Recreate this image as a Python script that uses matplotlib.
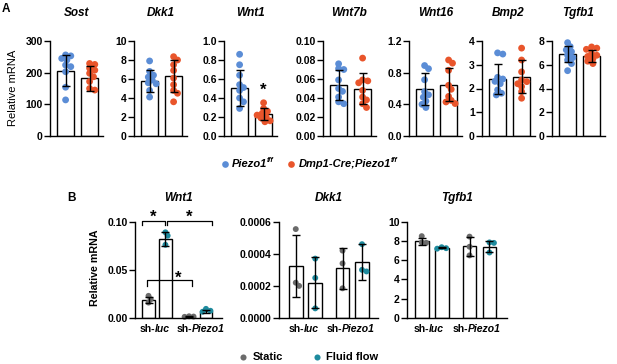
import numpy as np
import matplotlib
matplotlib.use('Agg')
import matplotlib.pyplot as plt
from matplotlib.transforms import IdentityTransform

plt.rcParams['font.family'] = ['Liberation Sans', 'DejaVu Sans']
plt.rcParams['axes.linewidth'] = 1.0

# ---------------- data: panel A ----------------
A_genes = ['Sost', 'Dkk1', 'Wnt1', 'Wnt7b', 'Wnt16', 'Bmp2', 'Tgfb1']
A_groups = ['Piezo1', 'Dmp1-Cre;Piezo1']
A_wt_mean = [206, 5.8, 0.51, 0.054, 0.59, 2.4, 6.9]
A_wt_sd = [49, 1.15, 0.19, 0.016, 0.20, 0.65, 0.66]
A_ko_mean = [182, 6.3, 0.23, 0.050, 0.65, 2.5, 6.74]
A_ko_sd = [40, 1.65, 0.065, 0.016, 0.21, 0.68, 0.47]
A_wt_pts = [
    [256, 253, 245, 240, 224, 219, 203, 154, 114],
    [7.9, 6.8, 6.4, 6.2, 5.9, 5.6, 5.5, 4.8, 4.1],
    [0.86, 0.75, 0.64, 0.54, 0.51, 0.48, 0.40, 0.36, 0.29],
    [0.076, 0.071, 0.070, 0.059, 0.050, 0.047, 0.041, 0.036, 0.034],
    [0.89, 0.85, 0.71, 0.56, 0.52, 0.49, 0.44, 0.40, 0.36],
    [3.5, 3.45, 2.47, 2.4, 2.3, 2.2, 1.94, 1.8, 1.73],
    [7.86, 7.53, 7.25, 7.1, 6.8, 6.6, 6.4, 6.1, 5.5],
]
A_ko_pts = [
    [229, 226, 214, 208, 198, 187, 172, 150, 145],
    [8.35, 8.0, 7.5, 6.9, 6.1, 5.4, 4.8, 4.5, 3.6],
    [0.35, 0.29, 0.26, 0.24, 0.22, 0.20, 0.19, 0.16, 0.15],
    [0.082, 0.059, 0.058, 0.056, 0.048, 0.041, 0.038, 0.034, 0.030],
    [0.96, 0.92, 0.83, 0.64, 0.59, 0.50, 0.45, 0.43, 0.41],
    [3.7, 3.2, 2.7, 2.36, 2.29, 2.2, 2.08, 1.87, 1.59],
    [7.5, 7.4, 7.3, 6.96, 6.8, 6.7, 6.5, 6.3, 6.1],
]
A_yticks = [
    [0, 100, 200, 300],
    [0, 2, 4, 6, 8, 10],
    [0.0, 0.2, 0.4, 0.6, 0.8, 1.0],
    [0.00, 0.02, 0.04, 0.06, 0.08, 0.10],
    [0.0, 0.4, 0.8, 1.2],
    [0, 1, 2, 3, 4],
    [0, 2, 4, 6, 8],
]
A_fmt = ['{:.0f}', '{:.0f}', '{:.1f}', '{:.2f}', '{:.1f}', '{:.0f}', '{:.0f}']
A_star_gene = 'Wnt1'
A_star_value = 0.526

# ---------------- data: panel B ----------------
B_genes = ['Wnt1', 'Dkk1', 'Tgfb1']
B_groups = [('sh-', 'luc'), ('sh-', 'Piezo1')]
B_conditions = ['Static', 'Fluid flow']
B_mean = [
    [0.0185, 0.082, 0.0015, 0.0068],
    [0.000325, 0.00022, 0.00031, 0.00035],
    [7.95, 7.3, 7.45, 7.4],
]
B_sd = [
    [0.0033, 0.0068, 0.0004, 0.0016],
    [0.000195, 0.00016, 0.000128, 0.000112],
    [0.35, 0.08, 1.0, 0.55],
]
B_pts = [
    [[0.023, 0.0195, 0.016], [0.089, 0.0855, 0.076], [0.0018, 0.0015, 0.0012], [0.0095, 0.0075, 0.0065]],
    [[0.000554, 0.00022, 0.0002], [0.00037, 0.00025, 0.00006], [0.00042, 0.00034, 0.000185], [0.00046, 0.0003, 0.00029]],
    [[8.5, 7.85, 7.8], [7.35, 7.25, 7.2], [8.45, 7.4, 6.5], [7.85, 7.8, 6.8]],
]
B_yticks = [
    [0.00, 0.05, 0.10],
    [0.0, 0.0002, 0.0004, 0.0006],
    [0, 2, 4, 6, 8, 10],
]
B_fmt = ['{:.2f}', '{:.4f}', '{:.0f}']

# ---------------- style ----------------
W, H = 617, 364
C_WT = '#5B8DD6'
C_KO = '#E9552B'
C_ST = '#6B6B6B'
C_FF = '#1E8B9E'
TICK_FS = 7.5
TITLE_FS = 8.5
LAB_FS = 8

fig = plt.figure(figsize=(W / 100, H / 100), dpi=100)
overlay = fig.add_axes([0, 0, 1, 1])
overlay.set_xlim(0, W)
overlay.set_ylim(H, 0)
overlay.axis('off')


def add_ax(x0, x1, ytop, ybot):
    return fig.add_axes([x0 / W, 1 - ybot / H, (x1 - x0) / W, (ybot - ytop) / H])


def style_ax(ax, ticks, fmt):
    for s in ['top', 'right']:
        ax.spines[s].set_visible(False)
    ax.set_yticks(ticks)
    ax.set_yticklabels([fmt.format(t) for t in ticks], fontsize=TICK_FS, fontweight='bold')
    ax.set_ylim(ticks[0], ticks[-1])
    ax.set_xticks([])
    ax.tick_params(axis='y', direction='out', length=4, width=1.0, pad=1.2)
    ax.patch.set_alpha(0)


def swarm(ax, xc, vals, diam):
    tr = ax.transData
    sx = tr.transform((xc + 1, 0))[0] - tr.transform((xc, 0))[0]
    placed = []
    xs, ys = [], []
    order = np.argsort(vals)[::-1]
    for i in order:
        v = vals[i]
        yp = tr.transform((xc, v))[1]
        off_final = 0
        for k in range(0, 80):
            cands = [0.0] if k == 0 else [k * diam * 0.2, -k * diam * 0.2]
            ok = None
            for off in cands:
                if all((off - px) ** 2 + (yp - py) ** 2 >= (diam * 0.72) ** 2 for px, py in placed):
                    ok = off
                    break
            if ok is not None:
                off_final = ok
                break
        placed.append((off_final, yp))
        xs.append(xc + off_final / sx)
        ys.append(v)
    return xs, ys


def draw_group(ax, x, mean, sd, pts, color, width, diam, s):
    ax.bar([x], [mean], width=width, color='white', edgecolor='black', linewidth=1.0, zorder=1)
    xs, ys = swarm(ax, x, pts, diam)
    ax.scatter(xs, ys, s=s, color=color, edgecolors='none', zorder=2, clip_on=False)
    ax.errorbar([x], [mean], yerr=[sd], fmt='none', ecolor='black', elinewidth=1.0,
                capsize=3.2, capthick=1.0, zorder=3)


def rich(x, y, pieces, ha='left'):
    r = fig.canvas.get_renderer()
    objs = []
    total = 0
    for s, kw in pieces:
        kw = dict(kw)
        dy = kw.pop('dy', 0)
        dx = kw.pop('dx', 0)
        t = fig.text(0, 0, s, transform=IdentityTransform(), va='center', ha='left', **kw)
        w = t.get_window_extent(r).width + dx
        objs.append((t, w, dy, dx))
        total += w
    cx = x - total / 2 if ha == 'center' else x
    for t, w, dy, dx in objs:
        t.set_position((cx + dx, H - y + dy))
        cx += w


# ---------------- panel A ----------------
A_left = [50, 134, 224, 323, 409, 482, 552]
A_top, A_bot = 41, 136
A_xlim = (-0.65, 1.55)
for i, g in enumerate(A_genes):
    x0 = A_left[i]
    x1 = x0 + 24 * (A_xlim[1] - A_xlim[0])
    ax = add_ax(x0, x1, A_top, A_bot)
    ax.set_xlim(*A_xlim)
    style_ax(ax, A_yticks[i], A_fmt[i])
    draw_group(ax, 0, A_wt_mean[i], A_wt_sd[i], A_wt_pts[i], C_WT, 0.7, 6.5, 24)
    draw_group(ax, 1, A_ko_mean[i], A_ko_sd[i], A_ko_pts[i], C_KO, 0.7, 6.5, 24)
    fig.text((x0 + x1) / 2 / W, 1 - 13 / H, g, ha='center', va='center',
             fontsize=TITLE_FS, fontweight='bold', fontstyle='italic')
    if g == A_star_gene:
        ax.annotate('*', (1, A_star_value), xytext=(0, -4), textcoords='offset pixels',
                    ha='center', va='center', fontsize=12, fontweight='bold')
    if i == 0:
        fig.text(13 / W, 1 - 88 / H, 'Relative mRNA', rotation=90, ha='center', va='center',
                 fontsize=LAB_FS)

fig.text(6 / W, 1 - 9 / H, 'A', ha='center', va='center', fontsize=8.5, fontweight='bold')

# legend A
overlay.plot([225], [164], 'o', color=C_WT, ms=4.8, mec='none')
overlay.plot([291], [164], 'o', color=C_KO, ms=4.8, mec='none')
bi = dict(fontsize=8, fontweight='bold', fontstyle='italic')
sup = dict(fontsize=5.2, fontweight='bold', fontstyle='italic', dy=3.5, dx=-0.5)
rich(232, 164, [(A_groups[0], bi), ('f/f', sup)])
rich(299, 164, [(A_groups[1], bi), ('f/f', sup)])

# ---------------- panel B ----------------
B_pos = [0, 1, 2.4, 3.4]
B_cols = [C_ST, C_FF, C_ST, C_FF]
# (x0 px, x1 px, xlim lo, xlim hi, bar width, label shifts px)
B_layout = [(135, 221.7, -0.80, 4.33, 0.75, (-2.5, 3.0)),
            (279, 378, -0.86, 4.22, 0.71, (-1.5, -1.0)),
            (407, 507, -0.74, 4.28, 0.69, (-3.0, -3.0))]
B_top, B_bot = 221.7, 318
for i, g in enumerate(B_genes):
    x0, x1, xa, xb, bw, shifts = B_layout[i]
    ax = add_ax(x0, x1, B_top, B_bot)
    ax.set_xlim(xa, xb)
    style_ax(ax, B_yticks[i], B_fmt[i])
    for j in range(4):
        draw_group(ax, B_pos[j], B_mean[i][j], B_sd[i][j], B_pts[i][j], B_cols[j], bw, 5.6, 18)
    fig.text((x0 + x1) / 2 / W, 1 - 198 / H, g, ha='center', va='center',
             fontsize=TITLE_FS, fontweight='bold', fontstyle='italic')
    tr = ax.transData
    for k, (pre, it) in enumerate(B_groups):
        xc = (tr.transform((B_pos[2 * k], 0))[0] + tr.transform((B_pos[2 * k + 1], 0))[0]) / 2
        rich(xc + shifts[k], 329, [(pre, dict(fontsize=7.5, fontweight='bold', dx=-0.3)),
                                   (it, dict(fontsize=7.5, fontweight='bold', fontstyle='italic', dx=-0.3))],
             ha='center')
    if i == 0:
        fig.text(95 / W, 1 - 268 / H, 'Relative mRNA', rotation=90, ha='center', va='center',
                 fontsize=7.7, fontweight='bold')
        # significance brackets
        kw = dict(color='black', lw=0.9, clip_on=False, zorder=4)
        p = B_pos
        y1, y1t = 0.101, 0.097
        ax.plot([p[0] - 0.4, p[0] - 0.4, p[1] - 0.05, p[1] - 0.05], [y1t, y1, y1, y1t], **kw)
        ax.plot([p[1] + 0.07, p[1] + 0.07, p[3] + 0.33, p[3] + 0.33], [y1t, y1, y1, y1t], **kw)
        y3, y3t = 0.039, 0.033
        ax.plot([p[0] - 0.08, p[0] - 0.08, p[2] + 0.15, p[2] + 0.15], [y3t, y3, y3, y3t], **kw)
        for sx_, sy_ in [((p[0] - 0.4 + p[1] - 0.05) / 2, 0.109),
                         ((p[1] + 0.07 + p[3] + 0.33) / 2, 0.109),
                         (1.76, 0.045)]:
            ax.annotate('*', (sx_, sy_), xytext=(0, -4), textcoords='offset pixels',
                        ha='center', va='center', fontsize=12, fontweight='bold',
                        annotation_clip=False)

fig.text(72 / W, 1 - 198 / H, 'B', ha='center', va='center', fontsize=8.5, fontweight='bold')

# legend B
overlay.plot([243.3], [357], 'o', color=C_ST, ms=4.4, mec='none')
overlay.plot([317.3], [357], 'o', color=C_FF, ms=4.4, mec='none')
rich(253, 357, [(B_conditions[0], dict(fontsize=8, fontweight='bold'))])
rich(326.5, 357, [(B_conditions[1], dict(fontsize=8, fontweight='bold'))])

fig.savefig('out.png', dpi=100)
